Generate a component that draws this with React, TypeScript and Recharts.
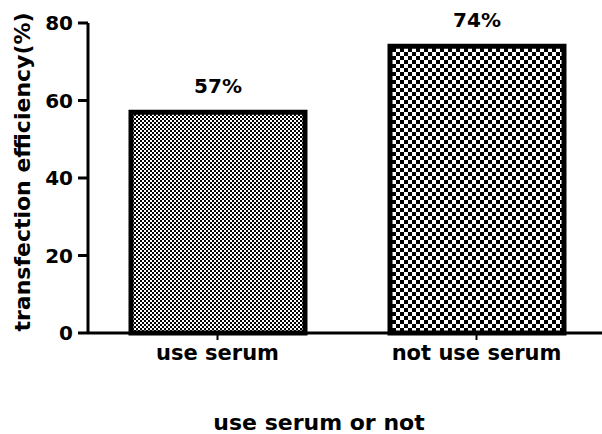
import React from 'react';
import { BarChart, Bar, XAxis, YAxis, Cell, LabelList, Label } from 'recharts';

const categories = ['use serum', 'not use serum'];
const efficiency = [57, 74];
const percentLabels = ['57%', '74%'];
const yTicks = [0, 20, 40, 60, 80];
const patternIds = ['fineChecker', 'coarseChecker'];

const data = categories.map((c, i) => ({ name: c, value: efficiency[i], pct: percentLabels[i] }));

const FONT = '"DejaVu Sans", Verdana, sans-serif';

export default function App() {
  return (
    <div style={{ position: 'absolute', left: 0, top: 0, width: 602, height: 434, overflow: 'hidden', background: '#fff' }}>
      <svg width={0} height={0} style={{ position: 'absolute' }}>
        <defs>
          <pattern id="fineChecker" patternUnits="userSpaceOnUse" width={4} height={4}>
            <rect x={0} y={0} width={4} height={4} fill="#fff" />
            <rect x={0} y={0} width={2} height={2} fill="#000" />
            <rect x={2} y={2} width={2} height={2} fill="#000" />
          </pattern>
          <pattern id="coarseChecker" patternUnits="userSpaceOnUse" width={8} height={8}>
            <rect x={0} y={0} width={8} height={8} fill="#fff" />
            <rect x={0} y={0} width={4} height={4} fill="#000" />
            <rect x={4} y={4} width={4} height={4} fill="#000" />
          </pattern>
        </defs>
      </svg>
      <BarChart
        width={606}
        height={434}
        data={data}
        margin={{ top: 23, right: 0, bottom: 61, left: 0 }}
      >
        <XAxis
          dataKey="name"
          height={40}
          axisLine={{ stroke: '#000', strokeWidth: 3 }}
          tickLine={{ stroke: '#000', strokeWidth: 2 }}
          tickSize={7}
          tickMargin={5}
          tick={{ fill: '#000', fontSize: 21, fontWeight: 'bold', fontFamily: FONT }}
        >
          <Label
            content={() => (
              <text x={319} y={430} textAnchor="middle" fill="#000" fontSize={22} fontWeight="bold" fontFamily={FONT}>
                use serum or not
              </text>
            )}
          />
        </XAxis>
        <YAxis
          width={88}
          domain={[0, 80]}
          ticks={yTicks}
          interval={0}
          axisLine={{ stroke: '#000', strokeWidth: 3 }}
          tickLine={{ stroke: '#000', strokeWidth: 3 }}
          tickSize={10}
          tickMargin={5}
          tick={{ fill: '#000', fontSize: 20, fontWeight: 'bold', fontFamily: FONT }}
        >
          <Label
            content={() => (
              <text
                x={22}
                y={172}
                transform="rotate(-90, 22, 172)"
                textAnchor="middle"
                dominantBaseline="central"
                fill="#000"
                fontSize={22}
                fontWeight="bold"
                fontFamily={FONT}
              >
                transfection efficiency(%)
              </text>
            )}
          />
        </YAxis>
        <Bar dataKey="value" barSize={174} stroke="#000" strokeWidth={5} isAnimationActive={false}>
          {data.map((d, i) => (
            <Cell key={d.name} fill={`url(#${patternIds[i]})`} />
          ))}
          <LabelList
            dataKey="pct"
            position="top"
            offset={19}
            fill="#000"
            fontSize={20}
            fontWeight="bold"
            fontFamily={FONT}
          />
        </Bar>
      </BarChart>
    </div>
  );
}
